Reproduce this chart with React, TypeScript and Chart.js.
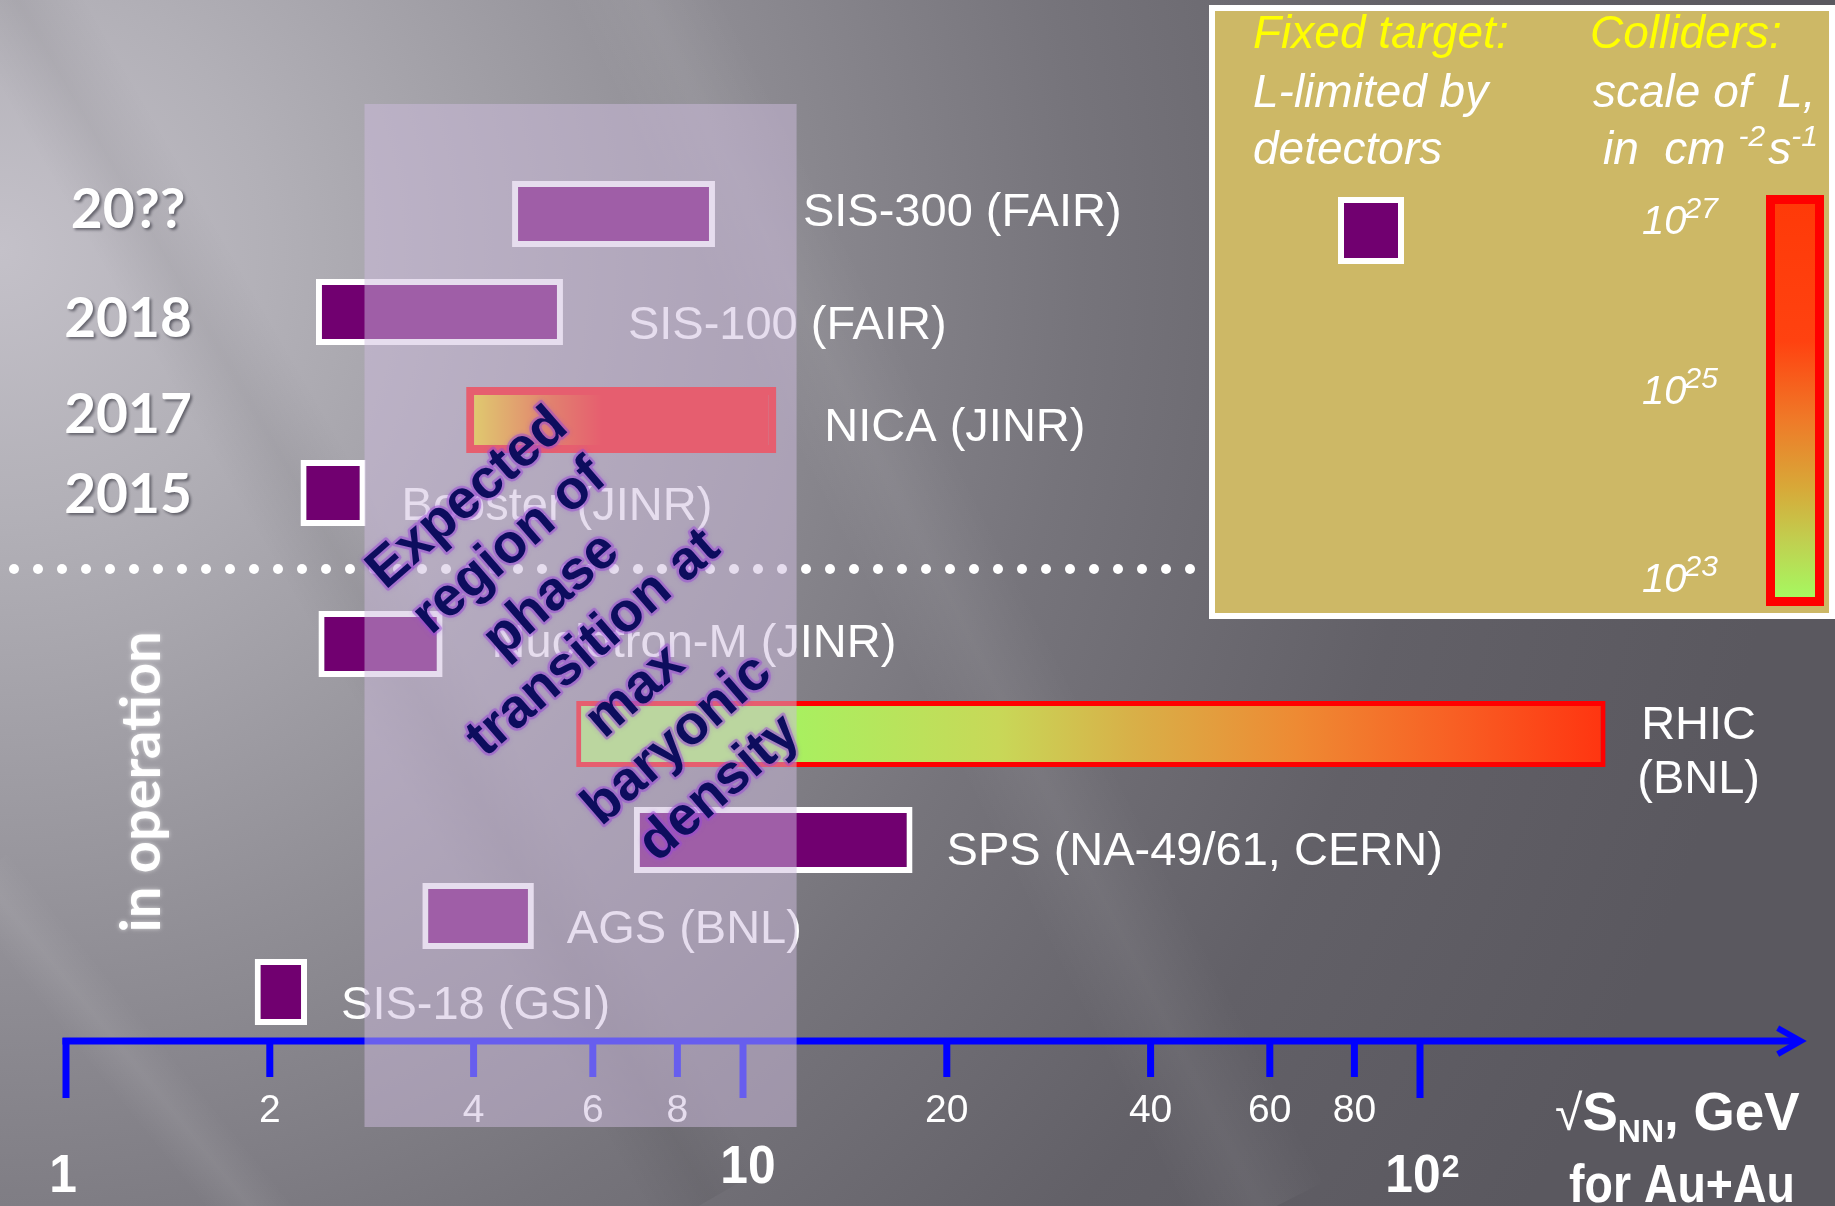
import React, { useEffect, useRef } from 'react';
import { Chart, registerables } from 'chart.js';

Chart.register(...registerables);

// ---------------- data ----------------
const facilities = ['SIS-300 (FAIR)', 'SIS-100 (FAIR)', 'NICA (JINR)', 'Booster (JINR)', 'Nuclotron-M (JINR)', 'RHIC\n(BNL)', 'SPS (NA-49/61, CERN)', 'AGS (BNL)', 'SIS-18 (GSI)'];
const energyMin = [4.56, 2.34, 3.9, 2.22, 2.36, 5.67, 6.9, 3.36, 1.9];
const energyMax = [9.09, 5.42, 11.2, 2.77, 3.6, 188, 17.8, 4.91, 2.27];
const facilityType = ['fixed', 'fixed', 'collider', 'fixed', 'fixed', 'collider', 'fixed', 'fixed', 'fixed'];
const rowPos = [17.74, 25.87, 34.83, 40.88, 53.4, 60.86, 69.65, 75.95, 82.26];
const years = ['20??', '2018', '2017', '2015'];
const axisTicks = [1, 2, 4, 6, 8, 10, 20, 40, 60, 80, 100];
const axisTickLabels = ['', '2', '4', '6', '8', '', '20', '40', '60', '80', ''];
const decades = [1, 10, 100];
const decadeLabels = ['1', '10', '10'];
const decadeExponents = ['', '', '2'];
const transitionRegion = [2.76, 12.0];
const luminosityExponents = ['27', '25', '23'];
const transitionText = ['Expected', 'region of', 'phase', 'transition at', 'max', 'baryonic', 'density'];

// ---------------- layout / style ----------------
const W = 1835;
const H = 1206;
const SANS = "'Liberation Sans', Arial, Helvetica, sans-serif";
const ROUND = "Lato, 'Open Sans', sans-serif";
const LABEL_GAP = [88, 65, 48, 36, 49, 93, 34, 33, 34];
const LABEL_DY = [12, 27, 21, 27, 13, 5, 25, 27, 27];
const YEAR_DY = [14, 25, 13, 20];
const SEPARATOR_Y = 47.18;
const AXIS_Y = 86.32;
const REGION_Y = [8.62, 93.45];
const AXIS_END = 365;
const X_MIN = Math.pow(10, -66 / 677);
const X_MAX = Math.pow(10, (W - 66) / 677);

const GRADIENTS: Record<number, [number, string][]> = {
  2: [[0, '#f2e400'], [0.28, '#f54400'], [0.44, '#ff0000'], [1, '#ff0000']],
  5: [[0, '#a8f060'], [0.21, '#a8f060'], [0.41, '#c8d858'], [0.54, '#d8b048'], [0.7, '#ee8a33'], [0.85, '#f86024'], [1, '#ff3410']],
};

function text(ctx: CanvasRenderingContext2D, s: string, x: number, y: number, font: string, color: string, align: CanvasTextAlign = 'left', sx = 1) {
  ctx.save();
  ctx.font = font;
  ctx.fillStyle = color;
  ctx.textAlign = align;
  ctx.textBaseline = 'alphabetic';
  ctx.translate(x, y);
  if (sx !== 1) ctx.scale(sx, 1);
  ctx.fillText(s, 0, 0);
  ctx.restore();
}

function measure(ctx: CanvasRenderingContext2D, s: string, font: string) {
  ctx.save();
  ctx.font = font;
  const w = ctx.measureText(s).width;
  ctx.restore();
  return w;
}

function textFit(ctx: CanvasRenderingContext2D, s: string, x: number, y: number, font: string, color: string, width: number, align: CanvasTextAlign = 'left') {
  const w = measure(ctx, s, font);
  text(ctx, s, x, y, font, color, align, width / w);
}

function streak(ctx: CanvasRenderingContext2D, cx: number, cy: number, ang: number, len: number, halfW: number, rgb: string, a: number) {
  ctx.save();
  ctx.translate(cx, cy);
  ctx.rotate((ang * Math.PI) / 180);
  const g = ctx.createLinearGradient(0, -halfW, 0, halfW);
  g.addColorStop(0, `rgba(${rgb},0)`);
  g.addColorStop(0.5, `rgba(${rgb},${a})`);
  g.addColorStop(1, `rgba(${rgb},0)`);
  ctx.fillStyle = g;
  ctx.fillRect(-len / 2, -halfW, len, 2 * halfW);
  ctx.restore();
}

function drawBackground(ctx: CanvasRenderingContext2D) {
  const g = ctx.createRadialGradient(0, 250, 0, 0, 250, 1800);
  g.addColorStop(0, '#c4c1c9');
  g.addColorStop(0.15, '#b2b0b7');
  g.addColorStop(0.4, '#908e95');
  g.addColorStop(0.6, '#76747b');
  g.addColorStop(0.8, '#626067');
  g.addColorStop(1, '#5a585f');
  ctx.fillStyle = g;
  ctx.fillRect(0, 0, W, H);
  streak(ctx, 900, 500, 63, 1600, 70, '255,255,255', 0.06);
  streak(ctx, 170, 1108, 51, 600, 35, '255,255,255', 0.07);
  streak(ctx, 260, 420, 60, 1800, 60, '0,0,0', 0.06);
}

function drawLegend(ctx: CanvasRenderingContext2D) {
  ctx.save();
  ctx.fillStyle = '#cdb866';
  ctx.fillRect(1212, 8, 620, 608);
  ctx.strokeStyle = '#ffffff';
  ctx.lineWidth = 6;
  ctx.strokeRect(1212, 8, 620, 608);
  ctx.restore();
  const IT = `italic 46px ${SANS}`;
  const SUP = `italic 30px ${SANS}`;
  text(ctx, 'Fixed target:', 1253, 48, IT, '#ffff00');
  text(ctx, 'L-limited by', 1253, 107, IT, '#ffffff');
  text(ctx, 'detectors', 1253, 164, IT, '#ffffff');
  text(ctx, 'Colliders:', 1590, 48, IT, '#ffff00');
  text(ctx, 'scale of  L,', 1593, 107, IT, '#ffffff');
  let x = 1603;
  text(ctx, 'in  cm ', x, 164, IT, '#ffffff');
  x += measure(ctx, 'in  cm ', IT);
  text(ctx, '-2', x, 146, SUP, '#ffffff');
  x += measure(ctx, '-2', SUP) + 3;
  text(ctx, 's', x, 164, IT, '#ffffff');
  x += measure(ctx, 's', IT);
  text(ctx, '-1', x, 146, SUP, '#ffffff');

  // fixed target marker
  ctx.fillStyle = '#ffffff';
  ctx.fillRect(1338, 197, 66, 67);
  ctx.fillStyle = '#710070';
  ctx.fillRect(1344, 203, 54, 55);

  // luminosity labels
  const LF = `italic 40px ${SANS}`;
  const LS = `italic 30px ${SANS}`;
  const bases = [234, 404, 592];
  luminosityExponents.forEach((e, i) => {
    text(ctx, '10', 1642, bases[i], LF, '#ffffff');
    text(ctx, e, 1642 + measure(ctx, '10', LF) - 2, bases[i] - 16, LS, '#ffffff');
  });

  // colour bar
  ctx.fillStyle = '#ff0000';
  ctx.fillRect(1766, 195, 58, 411);
  const cg = ctx.createLinearGradient(0, 204, 0, 597);
  cg.addColorStop(0, '#ff3a08');
  cg.addColorStop(0.35, '#ff4210');
  cg.addColorStop(0.55, '#ef7a28');
  cg.addColorStop(0.72, '#d8a838');
  cg.addColorStop(0.86, '#c0d050');
  cg.addColorStop(1, '#a6f860');
  ctx.fillStyle = cg;
  ctx.fillRect(1775, 204, 40, 393);
}

const slidePlugin = {
  id: 'slide',
  beforeDraw(chart: any) {
    drawBackground(chart.ctx);
  },
  afterDatasetsDraw(chart: any) {
    const ctx: CanvasRenderingContext2D = chart.ctx;
    const xs = chart.scales.x;
    const ys = chart.scales.y;

    // facility labels
    facilities.forEach((name, i) => {
      const xe = xs.getPixelForValue(energyMax[i]);
      const yc = ys.getPixelForValue(rowPos[i]);
      const font = `47px ${SANS}`;
      if (name.includes('\n')) {
        const parts = name.split('\n');
        parts.forEach((p, k) => text(ctx, p, xe + LABEL_GAP[i], yc + LABEL_DY[i] + k * 54, font, '#ffffff', 'center'));
      } else {
        text(ctx, name, xe + LABEL_GAP[i], yc + LABEL_DY[i], font, '#ffffff');
      }
    });

    // dotted separator
    const sy = ys.getPixelForValue(SEPARATOR_Y);
    ctx.save();
    ctx.fillStyle = '#ffffff';
    for (let x = 14; x < 1208; x += 24) {
      ctx.beginPath();
      ctx.arc(x, sy, 5, 0, Math.PI * 2);
      ctx.fill();
    }
    ctx.restore();

    // energy axis
    const ay = ys.getPixelForValue(AXIS_Y);
    const x1 = xs.getPixelForValue(1);
    const xEnd = xs.getPixelForValue(AXIS_END);
    ctx.save();
    ctx.strokeStyle = '#0000ff';
    ctx.lineWidth = 7;
    ctx.lineCap = 'butt';
    ctx.beginPath();
    ctx.moveTo(x1 - 3.5, ay);
    ctx.lineTo(xEnd - 4, ay);
    ctx.stroke();
    ctx.lineWidth = 6;
    ctx.lineJoin = 'miter';
    ctx.beginPath();
    ctx.moveTo(xEnd - 23, ay - 13);
    ctx.lineTo(xEnd, ay);
    ctx.lineTo(xEnd - 23, ay + 13);
    ctx.stroke();
    ctx.lineWidth = 7;
    axisTicks.forEach((v) => {
      const px = xs.getPixelForValue(v);
      const major = decades.includes(v);
      ctx.beginPath();
      ctx.moveTo(px, ay - 3);
      ctx.lineTo(px, ay + (major ? 57 : 36));
      ctx.stroke();
    });
    ctx.restore();
    axisTicks.forEach((v, i) => {
      if (!axisTickLabels[i]) return;
      text(ctx, axisTickLabels[i], xs.getPixelForValue(v), ay + 81, `39px ${SANS}`, '#ffffff', 'center');
    });

    // transition region overlay
    const rx0 = xs.getPixelForValue(transitionRegion[0]);
    const rx1 = xs.getPixelForValue(transitionRegion[1]);
    const ry0 = ys.getPixelForValue(REGION_Y[0]);
    const ry1 = ys.getPixelForValue(REGION_Y[1]);
    ctx.save();
    ctx.fillStyle = 'rgba(205,187,222,0.5)';
    ctx.fillRect(rx0, ry0, rx1 - rx0, ry1 - ry0);
    ctx.restore();

    // decade labels
    const DF = `bold 54px ${SANS}`;
    const decadeDx = [-3, 5, -7];
    const decadeDy = [151, 142, 151];
    decades.forEach((v, i) => {
      const px = xs.getPixelForValue(v) + decadeDx[i];
      text(ctx, decadeLabels[i], px, ay + decadeDy[i], DF, '#ffffff', 'center', 0.92);
      if (decadeExponents[i]) {
        const w = measure(ctx, decadeLabels[i], DF) * 0.92;
        text(ctx, decadeExponents[i], px + w / 2 + 1, ay + decadeDy[i] - 15, `bold 32px ${SANS}`, '#ffffff');
      }
    });

    // axis title
    let tx = 1555;
    const tb = 1130;
    text(ctx, '√', tx, tb, `50px ${SANS}`, '#ffffff');
    tx += measure(ctx, '√', `50px ${SANS}`);
    text(ctx, 'S', tx, tb, `bold 53px ${SANS}`, '#ffffff');
    tx += measure(ctx, 'S', `bold 53px ${SANS}`);
    text(ctx, 'NN', tx, tb + 12, `bold 32px ${SANS}`, '#ffffff');
    tx += measure(ctx, 'NN', `bold 32px ${SANS}`);
    text(ctx, ', GeV', tx, tb, `bold 53px ${SANS}`, '#ffffff');
    textFit(ctx, 'for Au+Au', 1682, 1202, `bold 53px ${SANS}`, '#ffffff', 226, 'center');

    // rotated annotation
    const cx = xs.getPixelForValue(Math.sqrt(transitionRegion[0] * transitionRegion[1])) + 10;
    ctx.save();
    ctx.translate(cx, 640);
    ctx.rotate((-41 * Math.PI) / 180);
    ctx.font = `bold 55px ${SANS}`;
    ctx.textAlign = 'center';
    ctx.textBaseline = 'alphabetic';
    ctx.lineJoin = 'round';
    ctx.strokeStyle = 'rgba(150,70,210,0.45)';
    ctx.lineWidth = 5;
    ctx.shadowColor = 'rgba(160,80,230,0.7)';
    ctx.shadowBlur = 4;
    transitionText.forEach((s, k) => ctx.strokeText(s, 0, (k - 3) * 64 + 20));
    ctx.shadowBlur = 0;
    ctx.shadowColor = 'rgba(0,0,0,0)';
    ctx.fillStyle = '#0d0d5e';
    transitionText.forEach((s, k) => ctx.fillText(s, 0, (k - 3) * 64 + 20));
    ctx.restore();

    // years
    years.forEach((y, i) => {
      const py = ys.getPixelForValue(rowPos[i]) + YEAR_DY[i];
      ctx.save();
      ctx.shadowColor = 'rgba(30,30,40,0.55)';
      ctx.shadowOffsetX = 2;
      ctx.shadowOffsetY = 2;
      ctx.shadowBlur = 3;
      ctx.font = `bold 55px ${ROUND}`;
      ctx.fillStyle = '#ffffff';
      ctx.textAlign = 'center';
      ctx.fillText(y, 128, py);
      ctx.restore();
    });

    // in operation
    ctx.save();
    ctx.translate(160, 782);
    ctx.rotate(-Math.PI / 2);
    ctx.shadowColor = 'rgba(255,255,255,0.6)';
    ctx.shadowBlur = 4;
    const IOF = `bold 56px ${ROUND}`;
    ctx.font = IOF;
    const iw = ctx.measureText('in operation').width;
    ctx.scale(301 / iw, 1);
    ctx.fillStyle = '#ffffff';
    ctx.textAlign = 'center';
    ctx.fillText('in operation', 0, 0);
    ctx.restore();

    drawLegend(ctx);
  },
};

export default function App() {
  const ref = useRef<HTMLCanvasElement>(null);
  useEffect(() => {
    const data = facilities.map((_, i) => ({ x: [energyMin[i], energyMax[i]], y: rowPos[i] }));
    const chart = new Chart(ref.current as HTMLCanvasElement, {
      type: 'bar',
      data: {
        datasets: [
          {
            data: data as any,
            barThickness: 66,
            borderSkipped: false,
            inflateAmount: 0,
            borderWidth: (c: any) => (c.dataIndex === 2 ? 8 : facilityType[c.dataIndex] === 'collider' ? 5 : 6),
            borderColor: (c: any) => (facilityType[c.dataIndex] === 'collider' ? '#ff0000' : '#ffffff'),
            backgroundColor: (c: any) => {
              const i = c.dataIndex;
              if (i === undefined || facilityType[i] !== 'collider') return '#710070';
              const xs = c.chart.scales.x;
              if (!xs) return '#ff0000';
              const g = c.chart.ctx.createLinearGradient(xs.getPixelForValue(energyMin[i]), 0, xs.getPixelForValue(energyMax[i]), 0);
              (GRADIENTS[i] || [[0, '#ff0000'], [1, '#ff0000']]).forEach(([o, col]) => g.addColorStop(o, col));
              return g;
            },
          } as any,
        ],
      },
      options: {
        indexAxis: 'y',
        responsive: false,
        animation: false,
        devicePixelRatio: 1,
        events: [],
        layout: { padding: 0 },
        plugins: { legend: { display: false }, tooltip: { enabled: false }, title: { display: false } },
        scales: {
          x: { type: 'logarithmic', min: X_MIN, max: X_MAX, bounds: 'data', offset: false, display: false },
          y: { type: 'linear', min: 0, max: 100, reverse: true, bounds: 'data', offset: false, display: false },
        },
      } as any,
      plugins: [slidePlugin],
    });
    return () => chart.destroy();
  }, []);
  return (
    <div style={{ position: 'fixed', left: 0, top: 0, width: W, height: H }}>
      <canvas ref={ref} width={W} height={H} style={{ display: 'block', width: W, height: H }} />
    </div>
  );
}
